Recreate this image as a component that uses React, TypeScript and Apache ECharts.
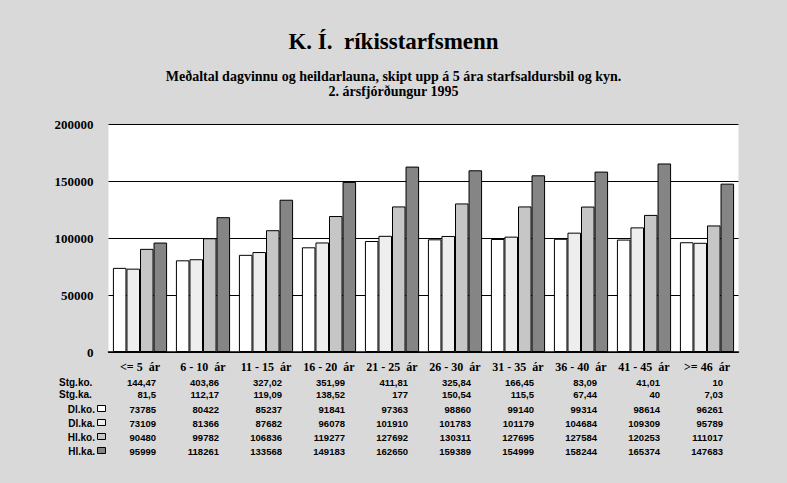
import React, { useEffect, useRef } from "react";
import * as echarts from "echarts";

const categories = ["<= 5  ár", "6 - 10  ár", "11 - 15  ár", "16 - 20  ár", "21 - 25  ár", "26 - 30  ár", "31 - 35  ár", "36 - 40  ár", "41 - 45  ár", ">= 46  ár"];
const stgKo = ["144,47", "403,86", "327,02", "351,99", "411,81", "325,84", "166,45", "83,09", "41,01", "10"];
const stgKa = ["81,5", "112,17", "119,09", "138,52", "177", "150,54", "115,5", "67,44", "40", "7,03"];
const dlKo = [73785, 80422, 85237, 91841, 97363, 98860, 99140, 99314, 98614, 96261];
const dlKa = [73109, 81366, 87682, 96078, 101910, 101783, 101179, 104684, 109309, 95789];
const hlKo = [90480, 99782, 106836, 119277, 127692, 130311, 127695, 127584, 120253, 111017];
const hlKa = [95999, 118261, 133568, 149183, 162650, 159389, 154999, 158244, 165374, 147683];
const seriesNames = ["Dl.ko.", "Dl.ka.", "Hl.ko.", "Hl.ka."];
const seriesColors = ["#ffffff", "#eeeeee", "#c6c6c6", "#858585"];
const yTicks = [0, 50000, 100000, 150000, 200000];

const SERIF = "Liberation Serif";
const SANS = "Liberation Sans";

export default function App() {
  const ref = useRef<HTMLDivElement>(null);
  useEffect(() => {
    document.body.style.margin = "0";
    const chart = echarts.init(ref.current!, null, { renderer: "svg" });
    const seriesData = [dlKo, dlKa, hlKo, hlKa];
    chart.setOption({
      animation: false,
      backgroundColor: "#d9d9d9",
      title: [
        {
          text: "K. Í.  ríkisstarfsmenn",
          left: "center",
          top: 25,
          textStyle: { fontFamily: SERIF, fontWeight: "bold", fontSize: 23, color: "#000" },
        },
        {
          text: "Meðaltal dagvinnu og heildarlauna, skipt upp á 5 ára starfsaldursbil og kyn.",
          left: "center",
          top: 64,
          textStyle: { fontFamily: SERIF, fontWeight: "bold", fontSize: 14, color: "#000" },
        },
        {
          text: "2. ársfjórðungur 1995",
          left: "center",
          top: 79,
          textStyle: { fontFamily: SERIF, fontWeight: "bold", fontSize: 14, color: "#000" },
        },
      ],
      grid: {
        left: 108.5,
        right: 48.5,
        top: 124,
        bottom: 131,
        show: true,
        backgroundColor: "#ffffff",
        borderWidth: 0,
      },
      xAxis: {
        type: "category",
        data: categories,
        axisLine: { lineStyle: { color: "#000", width: 1.5 } },
        axisTick: { show: false },
        axisLabel: { fontFamily: SERIF, fontWeight: "bold", fontSize: 12, color: "#000", margin: 9, interval: 0 },
      },
      yAxis: {
        type: "value",
        min: yTicks[0],
        max: yTicks[yTicks.length - 1],
        interval: 50000,
        axisLine: { show: false },
        axisTick: { show: false },
        axisLabel: {
          fontFamily: SERIF,
          fontWeight: "bold",
          fontSize: 13,
          color: "#000",
          margin: 15,
          formatter: (v: number) => String(v),
        },
        splitLine: { lineStyle: { color: "#000", width: 1 } },
      },
      series: seriesData.map((d, i) => ({
        name: seriesNames[i],
        type: "bar",
        data: d,
        barGap: "0%",
        barCategoryGap: "14%",
        itemStyle: { color: seriesColors[i], borderColor: "#000", borderWidth: 1 },
      })),
    });

    const rowY = [382, 394, 409, 423, 437, 451];
    const rows: (string[] | number[])[] = [stgKo, stgKa, dlKo, dlKa, hlKo, hlKa];
    const rowLabels = ["Stg.ko.", "Stg.ka.", ...seriesNames];
    const graphics: any[] = [];
    rows.forEach((row, r) => {
      const y = rowY[r];
      if (r < 2) {
        graphics.push({
          type: "text",
          x: 59,
          y,
          style: { text: rowLabels[r], fontFamily: SANS, fontWeight: "bold", fontSize: 10, fill: "#000", align: "left", verticalAlign: "middle" },
        });
      } else {
        graphics.push({
          type: "text",
          x: 95,
          y,
          style: { text: rowLabels[r], fontFamily: SANS, fontWeight: "bold", fontSize: 10, fill: "#000", align: "right", verticalAlign: "middle" },
        });
        graphics.push({
          type: "rect",
          shape: { x: 97.5, y: y - 3.5, width: 8, height: 6 },
          style: { fill: seriesColors[r - 2], stroke: "#000", lineWidth: 1 },
        });
      }
      row.forEach((v, c) => {
        const px = chart.convertToPixel({ xAxisIndex: 0 }, categories[c]) as number;
        graphics.push({
          type: "text",
          x: px + 16,
          y,
          style: { text: String(v), fontFamily: SANS, fontWeight: "bold", fontSize: 9.5, fill: "#000", align: "right", verticalAlign: "middle" },
        });
      });
    });
    chart.setOption({ graphic: graphics });

    return () => chart.dispose();
  }, []);
  return <div ref={ref} style={{ width: 787, height: 483 }} />;
}
